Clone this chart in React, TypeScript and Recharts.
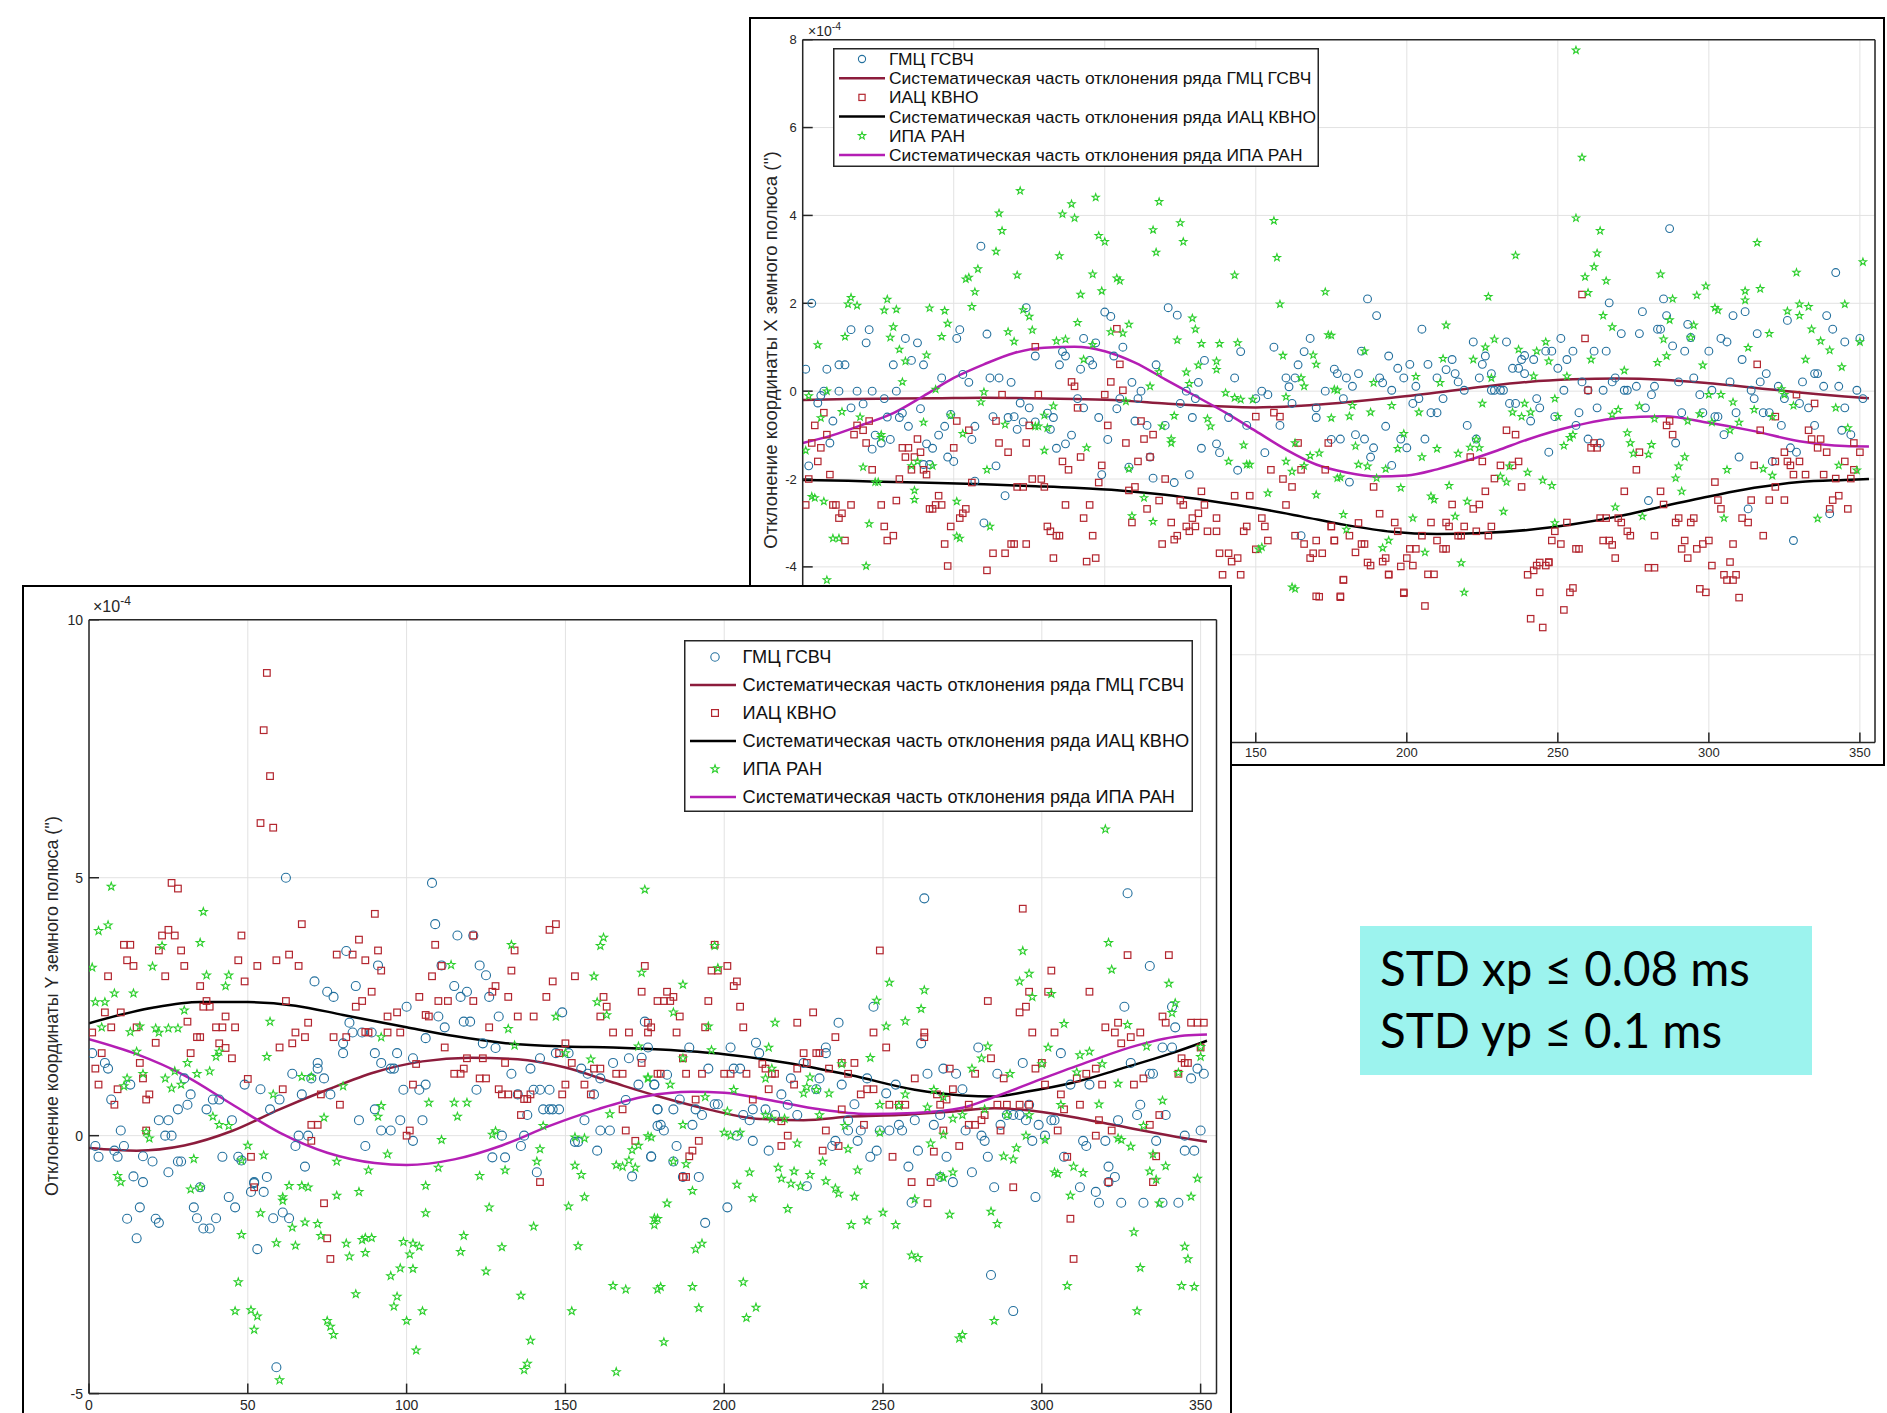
import React from 'react';
import { ComposedChart, Scatter, Line, XAxis, YAxis, CartesianGrid } from 'recharts';

type P = [number, number];

// ---------- labels ----------
const X_TICKS = [0, 50, 100, 150, 200, 250, 300, 350];
const X_DOMAIN: [number, number] = [0, 355];
const TOP_Y_TICKS = [-8, -6, -4, -2, 0, 2, 4, 6, 8];
const BOT_Y_TICKS = [-5, 0, 5, 10];
// tick labels of the upper chart that lie under the lower chart (not visible in the reference)
const TOP_HIDDEN_X = [0, 50, 100];
const TOP_HIDDEN_Y = [-6, -8];
const SERIES_NAMES = [
  'ГМЦ ГСВЧ',
  'Систематическая часть отклонения ряда ГМЦ ГСВЧ',
  'ИАЦ КВНО',
  'Систематическая часть отклонения ряда ИАЦ КВНО',
  'ИПА РАН',
  'Систематическая часть отклонения ряда ИПА РАН',
];
const TOP_Y_TITLE = "Отклонение координаты X земного полюса ('')";
const BOT_Y_TITLE = "Отклонение координаты Y земного полюса ('')";
const STD_LINES = ['STD xp ≤ 0.08 ms', 'STD yp ≤ 0.1 ms'];

// ---------- top chart (X pole), units 1e-4 ----------
const TOP_GMC: P[] = [[3,2.0],[1,0.5],[2,-1.7],[7,0],[8,0.5],[12,0.6],[14,0.6],[16,1.4],[21,1.1],[22,1.4],[12,0],[18,0],[23,0],[5,-0.27],[10,-0.68],[9,-1.18],[16,-0.38],[20,-0.29],[24,-1.0],[26,-1.18],[29,-1.1],[28,-0.59],[30,0.6],[31,0],[33,-0.5],[34,1.2],[38,1.1],[36,0.7],[40,0.6],[39,-0.4],[35,-0.8],[41,-1.2],[43,-1.3],[45,-1.0],[47,-0.8],[46,0.3],[51,1.2],[52,1.4],[53,0.38],[55,0.2],[57,-0.8],[56,-1.1],[59,3.3],[61,1.3],[48,-1.5],[50,-1.6],[64,-1.7],[67,-2.38],[60,-3.0],[62,0.3],[65,0.3],[69,0.2],[68,-0.6],[73,-0.7],[74,1.9],[72,-0.27],[75,-0.38],[77,-0.7],[77,0.8],[81,-0.5],[83,-0.6],[82,-0.87],[84,-1.3],[87,-1.2],[89,-1.0],[85,0.6],[87,0.8],[86,0.9],[92,0.5],[93,1.2],[95,0.7],[96,0.6],[97,1.1],[91,-0.17],[93,-0.38],[98,-0.6],[101,-1.1],[99,-1.9],[100,1.8],[102,1.7],[103,0.8],[106,1.0],[105,-0.17],[104,-0.4],[108,-1.73],[111,-0.17],[112,0],[109,0.2],[110,-0.68],[114,-0.78],[115,-1.5],[117,0.6],[120,-0.78],[121,1.9],[124,1.73],[123,-2.08],[128,-1.9],[125,-0.28],[127,0],[129,-0.6],[131,0.2],[130,-0.17],[132,-1.3],[133,0.7],[137,-1.2],[138,-1.4],[141,-0.6],[143,0.3],[144,-1.8],[145,0.9],[147,-0.78],[150,-0.17],[153,-1.4],[152,0],[154,-0.08],[156,1.0],[160,0.3],[163,0.3],[161,0.1],[164,0.6],[166,0.9],[168,1.2],[170,-0.6],[173,0],[176,0.5],[162,-0.28],[165,-3.29],[158,-0.78],[170,-0.38],[175,-1.1],[6,-0.1],[27,-0.17],[32,-0.6],[42,-1.67],[49,-0.53],[63,-0.58],[70,-0.58],[71,-0.87],[23,-1.32],[40,-1.67],[57,-2.05],[116,-1.98],
[187,2.1],[190,1.72],[205,1.41],[185,0.91],[194,0.8],[201,0.61],[197,0.52],[207,0.61],[177,0.4],[180,0.3],[184,0.4],[182,0.11],[191,0.3],[192,0.19],[199,0.3],[203,0.11],[195,0.02],[179,-0.17],[193,-0.8],[178,-1.09],[183,-0.99],[186,-1.09],[189,-1.29],[188,-1.5],[195,-1.69],[181,-2.07],[200,-1.29],[198,-1.09],[206,-1.09],[202,-0.28],[204,-0.17],[208,-0.49],[210,-0.49],[212,-0.17],[210,0.3],[213,0.49],[215,0.72],[216,0.4],[217,0.21],[219,0.02],[222,1.12],[225,0.61],[226,0.8],[224,0.3],[228,0.4],[220,-0.78],[223,-1.09],[228,0.02],[229,0.02],[231,0.02],[232,0.02],[233,1.12],[235,0.52],[237,0.52],[238,0.72],[239,0.81],[242,0.72],[234,-0.28],[236,-0.28],[239,0.4],[241,-0.68],[243,-0.17],[244,-0.38],[246,0.91],[248,0.91],[250,0.52],[251,1.2],[253,0.72],[255,0.91],[252,0.02],[249,-0.58],[247,-1.39],[256,-0.78],[257,-0.49],[258,0.21],[260,0.02],[260,-1.09],[262,0.91],[266,0.91],[263,-0.38],[264,-1.18],[265,0.02],[267,2.01],[268,0.21],[269,0.3],[271,1.31],[272,0.02],[273,0.02],[276,0.11],[277,1.31],[278,1.81],[279,-0.38],[280,-2.49],[281,-0.08],[282,0.11],[283,1.41],[284,1.41],[285,2.1],[286,1.72],[287,3.7],[288,1.03],[289,-1.18],[290,0.21],[291,-0.49],[292,0.91],[293,1.52],[294,1.22],[295,0.3],[297,-0.08],[298,-0.49],[300,0.91],[301,0.02],[302,-0.58],[303,-0.58],[304,1.2],[305,-0.99],[306,1.12],[307,0.21],[308,1.72],[309,-0.49],[310,-1.5],[311,0.72],[312,1.81],[313,-2.68],[314,0.02],[315,-0.17],[316,1.31],[317,0.21],[318,-0.49],[320,-0.49],[319,0.4],[321,-1.6],[323,0.11],[324,-0.78],[325,-0.17],[326,1.61],[327,-1.29],[328,-3.4],[329,-1.39],[330,-0.28],[331,0.21],[333,-0.38],[335,-0.78],[335,0.4],[336,0.4],[338,0.11],[339,1.72],[340,-2.79],[341,1.41],[342,2.7],[343,0.11],[344,-0.89],[345,-0.38],[345,1.12],[347,-0.99],[349,0.02],[350,1.2],[351,-0.17]];

const TOP_IAC: P[] = [[2,-2.0],[1,-2.59],[3,-1.18],[4,-0.78],[5,-1.6],[6,-1.29],[7,-0.49],[8,-0.99],[9,-1.9],[10,-2.59],[11,-2.59],[12,-2.89],[13,-2.78],[14,-3.4],[16,-2.59],[17,-0.99],[18,-0.78],[20,-0.89],[21,-1.18],[22,-0.68],[23,-1.79],[26,-2.59],[27,-3.08],[28,-3.4],[30,-3.29],[31,-2.49],[32,-2.0],[33,-1.29],[35,-1.29],[34,-1.5],[36,-1.79],[37,-1.5],[38,-1.09],[39,-1.39],[40,-1.79],[41,-1.9],[42,-2.68],[43,-2.68],[44,-2.59],[45,-2.38],[46,-2.59],[47,-3.48],[48,-3.98],[49,-3.08],[50,-1.29],[51,-0.68],[52,-2.89],[53,-2.78],[54,-2.68],[55,-0.89],[56,-2.08],[61,-4.08],[63,-3.69],[64,-0.68],[65,-1.18],[66,-0.08],[67,-3.69],[68,-1.39],[69,-3.48],[70,-3.48],[71,-2.18],[73,-2.18],[74,-1.18],[74,-3.48],[75,-0.78],[77,1.01],[78,-0.08],[76,-2.0],[79,-2.0],[80,-2.18],[81,-3.08],[82,-3.19],[84,-3.29],[85,-3.29],[83,-3.8],[86,-1.6],[87,-2.59],[88,-1.79],[89,0.21],[90,0.11],[91,-0.38],[92,-1.5],[93,-2.89],[94,-3.88],[95,-2.59],[96,-3.29],[97,-3.8],[98,-2.08],[99,-1.69],[100,-0.08],[101,-0.78],[102,0.21],[104,1.42],[105,0.61],[106,0.02],[107,-1.18],[108,-2.26],[109,-2.99],[110,-2.18],[111,-1.6],[112,-0.68],[113,-1.09],[114,-2.68],[115,-1.5],[116,-0.99],[118,-2.49],[119,-3.48],[120,-2.0],[122,-2.99],[123,-3.38],[124,-3.29],[125,-2.49],[126,-2.59],[127,-3.08],[128,-3.19],[129,-2.89],[130,-3.08],[131,-2.78],[132,-2.28],[133,-2.59],[134,-3.19],[137,-3.19],[137,-2.89],[138,-3.69],[141,-3.69],[139,-4.18],[145,-4.18],[142,-3.88],[144,-3.8],[143,-2.38],[148,-2.38],[146,-3.19],[147,-3.08],[150,-3.6],[152,-2.89],[153,-3.08],[154,-3.4],[155,-1.79],[156,-0.49],[158,-0.58],[159,-2.0],[160,-2.59],[162,-2.18],[163,-3.29],[165,-1.79],[166,-3.48],[168,-3.8],[169,-3.69],[170,-3.4],[172,-3.69],[173,-1.79],[174,-1.18],[175,-3.08],[176,-3.4],[171,-4.68],[150,-0.58],[164,-1.18],
[170,-4.67],[178,-4.67],[179,-4.3],[194,-4.17],[199,-4.58],[206,-4.89],[207,-4.17],[209,-4.17],[297,-4.5],[306,-4.3],[308,-4.3],[310,-4.7],[280,-4.02],[282,-4.02],
[258,2.2],[259,1.2],[260,0.02],[316,0.61],[329,-0.08],[335,-0.28],[322,-0.58],[317,-0.89],[333,-0.89],[334,-1.09],[337,-1.09],[336,-1.29],[339,-1.39],[325,-1.39],[326,-1.6],[330,-1.6],[322,-1.6],[327,-1.69],[315,-1.69],[345,-1.6],[348,-1.18],[350,-1.39],[328,-1.9],[332,-1.9],[338,-1.9],[342,-1.99],[347,-1.99],[348,-1.79],[322,-2.18],[302,-2.07],[303,-2.48],[304,-2.68],[314,-2.48],[320,-2.48],[325,-2.48],[343,-2.38],[341,-2.48],[346,-2.68],[340,-2.68],[311,-2.89],[313,-2.99],[318,-3.29],[308,-3.48],[307,-3.89],[309,-4.18],[305,-4.18],[301,-3.97],[300,-3.4],[296,-3.59],[298,-3.48],[292,-3.4],[291,-3.59],[293,-3.8],[299,-4.58],[289,-2.99],[290,-2.89],[294,-2.99],[295,-2.89],[282,-3.29],[284,-2.28],[285,-2.58],[287,-0.68],[286,-0.78],[288,-0.99],[277,-1.39],[276,-1.79],[272,-2.28],[274,-3.29],[273,-3.19],[271,-2.99],[269,-3.8],[270,-2.89],[264,-2.89],[266,-2.89],[265,-3.4],[267,-3.4],[268,-3.5],[261,-1.29],[263,-1.29],[262,-1.18],[256,-3.59],[257,-3.59],[253,-2.99],[251,-3.48],[248,-3.4],[249,-3.19],[247,-3.89],[246,-3.97],[243,-3.97],[242,-4.08],[240,-4.18],[238,-2.18],[237,-1.6],[235,-1.69],[233,-0.89],[236,-0.99],[231,-1.69],[229,-1.99],[226,-2.28],[225,-1.6],[221,-1.5],[224,-2.58],[222,-2.68],[228,-3.08],[227,-3.29],[223,-3.19],[219,-3.08],[217,-3.29],[218,-3.29],[215,-2.58],[213,-2.99],[214,-3.08],[210,-3.4],[212,-3.59],[213,-3.59],[208,-2.99],[205,-3.29],[202,-3.97],[203,-3.59],[201,-3.59],[199,-4.6],[198,-3.99],[200,-3.8],[196,-2.99],[197,-3.19],[194,-4.18],[193,-3.8],[192,-3.88],[188,-3.97],[187,-3.9],[186,-3.48],[185,-3.48],[183,-3.67],[184,-3.0],[181,-3.29],[179,-4.29],[178,-4.69],[176,-3.4],[175,-3.08],[189,-2.18],[191,-2.79],[241,-5.18],[245,-5.38],[252,-4.98],[244,-4.58],[254,-4.58],[255,-4.48],[244,-3.9],[247,-3.9]];

const TOP_IPA: P[] = [[72,4.56],[65,4.05],[66,3.65],[64,3.18],[86,4.03],[89,4.26],[90,3.94],[97,4.41],[98,3.54],[100,3.4],[118,4.31],[116,3.67],[125,3.83],[126,3.4],[117,3.16],[85,3.08],[71,2.64],[58,2.78],[54,2.55],[55,2.59],[57,2.26],[56,1.92],[96,2.66],[104,2.57],[105,2.51],[92,2.2],[99,2.28],[143,2.64],[156,3.88],[157,3.04],[173,2.26],[158,1.98],[16,2.13],[15,1.98],[18,1.95],[28,2.09],[27,1.84],[31,1.86],[42,1.89],[47,1.83],[48,1.54],[46,1.24],[30,1.46],[29,1.22],[14,1.24],[5,1.05],[32,0.95],[41,0.82],[34,0.68],[73,1.85],[75,1.7],[68,1.35],[76,1.39],[70,1.13],[91,1.56],[102,1.35],[106,1.32],[108,1.52],[84,1.14],[87,1.18],[96,1.06],[93,0.72],[124,1.16],[129,1.66],[130,1.41],[132,1.08],[138,1.08],[144,1.1],[131,0.59],[137,0.68],[137,0.49],[140,-0.04],[145,-0.19],[149,-0.19],[143,-0.15],[127,0.43],[128,0.17],[115,0.11],[118,0.44],[160,-0.13],[159,0.81],[165,0.3],[166,0.11],[169,0.82],[170,0.61],[174,1.28],[176,0.04],[175,-0.61],[171,-1.41],[168,-1.47],[160,-1.6],[166,-1.7],[162,-1.83],[170,-2.36],[154,-2.32],[152,-3.55],[151,-3.6],[162,-4.46],[177,-1.98],[163,-1.18],[146,-1.23],[141,-1.6],[147,-1.67],[148,-1.67],[134,-0.63],[135,-0.8],[123,-0.56],[122,-1.09],[122,-1.18],[113,-2.43],[116,-2.97],[109,-2.84],[108,-1.77],[107,-0.23],[94,-1.29],[80,-1.35],[83,-0.34],[81,-0.84],[78,-0.8],[77,-0.8],[80,-0.55],[67,-0.76],[60,-0.02],[59,-0.25],[61,-1.79],[62,-3.08],[52,-3.35],[51,-2.51],[53,-0.97],[49,-0.55],[44,0.04],[40,-0.71],[38,-1.6],[37,-2.26],[43,-1.7],[36,-1.7],[33,0.21],[26,-0.99],[26,-1.06],[24,-2.07],[25,-2.07],[22,-3.02],[20,-1.73],[19,-0.59],[13,-0.47],[8,0],[6,-0.61],[2,-0.11],[1,-1.35],[3,-2.4],[7,-2.51],[10,-3.35],[12,-3.35],[21,-3.98],[8,-4.3],[119,-0.8],
[256,7.76],[258,5.32],[163,-4.5],[219,-4.58],[4,-2.43],[37,-2.47],[51,-3.3],
[256,3.94],[264,3.65],[263,3.14],[262,2.83],[259,2.6],[266,2.51],[260,2.24],[236,3.09],[316,3.38],[351,2.94],[329,2.7],[284,2.66],[299,2.39],[317,2.33],[312,2.28],[312,2.07],[296,2.18],[288,2.1],[227,2.15],[345,1.98],[330,1.98],[333,1.92],[302,1.9],[303,1.84],[326,1.82],[330,1.72],[265,1.72],[287,1.62],[295,1.5],[334,1.41],[268,1.46],[213,1.5],[175,1.27],[320,1.31],[285,1.18],[337,1.14],[340,0.93],[350,1.12],[313,0.99],[294,1.22],[229,1.18],[226,1.0],[222,0.72],[237,0.95],[243,0.91],[246,1.12],[247,0.68],[261,0.72],[283,0.65],[286,0.8],[298,0.59],[332,0.72],[344,0.55],[272,0.47],[186,0.91],[212,0.74],[242,0.34],[228,0.3],[211,0.19],[189,0.19],[203,0.33],[177,0.02],[182,-0.33],[181,-0.57],[188,-0.48],[195,-0.33],[204,-0.48],[225,-0.28],[235,-0.48],[238,-0.58],[241,-0.48],[239,-0.28],[249,-0.17],[253,0.34],[250,-0.58],[254,-1.06],[255,-0.99],[252,-1.24],[270,-0.42],[268,-0.53],[277,-0.34],[282,-0.63],[293,-0.68],[297,-0.52],[301,-0.71],[304,-0.08],[300,-0.08],[308,-0.25],[310,-0.71],[307,-0.89],[315,-0.42],[321,-0.58],[324,0.05],[325,-0.08],[328,-0.33],[342,-0.38],[346,-0.84],[349,-1.8],[321,-1.92],[318,-1.77],[343,-1.69],[306,-1.79],[292,-1.5],[290,-1.71],[289,-1.98],[291,-2.28],[273,-0.95],[274,-1.18],[275,-1.42],[280,-1.44],[281,-1.22],[269,-2.64],[278,-2.85],[305,-2.89],[336,-2.9],[248,-2.15],[245,-2.03],[240,-1.85],[233,-2.07],[232,-2.74],[231,-1.94],[234,-1.71],[214,-2.15],[220,-2.51],[209,-2.47],[208,-2.39],[216,-2.85],[202,-2.89],[198,-2.2],[205,-1.5],[210,-1.31],[217,-1.42],[221,-1.28],[224,-1.29],[223,-1.1],[199,-0.97],[197,-1.31],[193,-1.77],[190,-1.98],[184,-1.67],[187,-1.71],[183,-1.25],[178,-1.96],[179,-2.81],[180,-3.15],[194,-3.4],[192,-3.57],[206,-3.67],[218,-3.91],[249,-3.0]];

const TOP_GMC_LINE: P[] = [[0,-0.2],[15,-0.18],[30,-0.17],[45,-0.16],[60,-0.15],[75,-0.16],[90,-0.18],[105,-0.21],[120,-0.28],[135,-0.34],[150,-0.37],[165,-0.33],[180,-0.25],[195,-0.15],[210,-0.03],[225,0.1],[240,0.21],[255,0.27],[270,0.29],[285,0.26],[300,0.18],[315,0.08],[330,-0.03],[345,-0.12],[353,-0.16]];
const TOP_IAC_LINE: P[] = [[0,-2.02],[15,-2.04],[30,-2.07],[45,-2.09],[60,-2.12],[75,-2.16],[90,-2.2],[105,-2.26],[120,-2.36],[135,-2.5],[150,-2.66],[165,-2.85],[180,-3.05],[195,-3.2],[210,-3.25],[225,-3.23],[240,-3.16],[255,-3.03],[270,-2.85],[285,-2.62],[300,-2.4],[315,-2.2],[330,-2.07],[345,-2.02],[353,-2.0]];
const TOP_IPA_LINE: P[] = [[0,-1.18],[10,-1.0],[20,-0.76],[30,-0.5],[40,-0.11],[50,0.3],[60,0.61],[70,0.87],[80,0.99],[90,1.01],[100,0.91],[110,0.65],[120,0.27],[130,-0.11],[140,-0.49],[150,-0.91],[160,-1.33],[170,-1.67],[180,-1.85],[190,-1.94],[200,-1.92],[210,-1.78],[220,-1.58],[230,-1.35],[240,-1.1],[255,-0.8],[270,-0.61],[285,-0.57],[300,-0.72],[315,-0.91],[330,-1.14],[345,-1.25],[353,-1.26]];

// ---------- bottom chart (Y pole), units 1e-4 ----------
const BOT_GMC: P[] = [[62,5.0],[108,4.9],[109,4.1],[116,3.88],[121,3.88],[111,3.3],[81,3.58],[91,3.3],[123,3.3],[125,3.11],[71,2.99],[75,2.79],[77,2.69],[84,2.9],[115,2.9],[119,2.79],[117,2.69],[126,2.69],[129,2.31],[100,2.5],[110,2.31],[118,2.21],[120,2.21],[149,2.39],[175,2.21],[82,2.19],[83,2.0],[86,2.0],[89,2.0],[80,1.79],[80,1.6],[90,1.6],[97,1.6],[92,1.41],[95,1.3],[96,1.3],[102,1.5],[106,1.89],[112,2.1],[124,1.79],[128,1.7],[133,1.2],[139,1.3],[142,1.5],[147,1.6],[151,1.6],[155,1.3],[157,1.2],[161,1.11],[165,1.41],[170,1.5],[173,0.99],[178,0.99],[179,0.51],[179,0.19],[177,-0.4],[171,-0.79],[164,0.1],[161,0.1],[159,0.8],[156,0.3],[169,0.69],[153,-0.12],[154,-0.12],[160,-0.29],[140,0.89],[145,0.89],[142,0.89],[135,0.8],[143,0.51],[145,0.51],[148,0.51],[146,0.51],[138,0.4],[137,0],[136,-0.2],[141,-0.71],[131,-0.42],[127,-0.42],[130,0],[122,0.89],[106,0.99],[104,0.89],[99,0.89],[105,0.3],[98,0.3],[92,0.1],[95,0.1],[102,-0.1],[87,-0.2],[85,0.3],[90,0.51],[76,0.8],[67,0.8],[72,1.41],[72,1.3],[74,1.11],[70,1.11],[64,1.2],[54,0.9],[49,0.99],[57,0.51],[60,0.7],[66,0],[69,0],[65,-0.2],[68,-0.6],[56,-0.8],[51,-1.09],[52,-0.92],[55,-1.09],[58,-1.6],[63,-1.6],[61,-1.49],[53,-2.2],[59,-4.49],[45,0.3],[41,0.7],[39,0.7],[37,0.51],[32,0.8],[31,0.6],[28,0.51],[30,1.11],[25,0.3],[24,0],[26,0],[25,-0.71],[28,-0.5],[29,-0.5],[20,-0.5],[17,-0.4],[22,-1.69],[21,-1.61],[15,-1.99],[12,-1.61],[16,-1.39],[14,-0.79],[17,-0.9],[11,-0.2],[9,-0.41],[8,-0.29],[10,0.1],[3,-0.41],[2,-0.2],[1,1.6],[5,1.41],[6,1.3],[7,0.7],[13,0.99],[22,0.3],[33,-1.39],[35,-1.0],[34,-1.6],[36,-1.8],[38,-1.8],[40,-1.6],[44,-1.19],[46,-1.39],[42,-0.41],[47,-0.41],[48,-0.48],[52,-0.9],
[263,4.6],[327,4.7],[334,3.29],[326,2.5],[341,2.5],[236,2.19],[247,2.5],[262,1.79],[280,1.71],[306,1.6],[294,1.41],[338,1.71],[341,1.71],[342,2.1],[328,1.41],[334,1.2],[335,1.2],[309,0.99],[315,0.99],[349,1.3],[351,1.2],[347,1.11],[345,0],[350,0.1],[345,-0.29],[348,-0.29],[331,0.6],[330,0.4],[339,0.4],[324,0.3],[320,-0.1],[336,-0.1],[321,-0.9],[321,-0.6],[323,-0.8],[318,-1.3],[325,-1.3],[332,-1.3],[338,-1.3],[343,-1.3],[317,-1.09],[312,-1.0],[298,-1.19],[314,-0.2],[313,-0.1],[307,-0.41],[303,0.3],[304,0.3],[301,0],[299,0.21],[297,-0.1],[296,0.6],[286,1.2],[273,1.2],[269,1.3],[264,1.2],[275,0.9],[289,0.4],[291,0.4],[293,0.4],[295,0.3],[287,0.21],[276,0.1],[281,0],[282,-0.1],[283,-0.41],[270,-0.41],[278,-0.71],[272,-0.9],[285,-1.0],[284,-2.7],[291,-3.4],[268,-0.8],[261,-0.29],[266,0.21],[268,0.4],[260,0.3],[258,-0.6],[259,-1.3],[248,-0.29],[246,-0.41],[242,-0.1],[243,0.1],[249,0.1],[252,0.1],[255,0.21],[256,0.1],[251,0.82],[254,0.99],[241,0.61],[245,1.11],[237,0.99],[235,-0.1],[234,-0.2],[239,0.1],[239,0.3],[229,0.9],[226,-0.98],[230,1.11],[232,1.71],[232,1.6],[225,1.41],[221,1.11],[223,0.4],[220,0.6],[218,0.8],[216,0.4],[211,1.6],[210,1.8],[209,0.51],[208,0.3],[206,0.4],[209,-0.1],[214,-0.29],[213,0.51],[203,1.3],[205,1.3],[202,1.71],[201,-1.39],[204,0],[197,0.61],[198,0.61],[195,1.3],[193,0.4],[190,0.21],[191,0.51],[189,1.71],[194,-1.69],[192,-0.8],[187,-0.8],[185,-0.2],[184,-0.5],[177,-0.41],[180,0.21],[181,0.1],[179,0.51],[184,0.51],[178,0.99],[182,1.18],[186,0.7],[176,1.71],[174,1.51]];

const BOT_IAC: P[] = [[56,8.97],[55,7.86],[57,6.97],[54,6.06],[58,5.97],
[26,4.9],[28,4.79],[90,4.3],[67,4.1],[48,3.88],[25,3.99],[23,3.88],[27,3.88],[11,3.7],[13,3.7],[22,3.59],[29,3.59],[85,3.8],[78,3.51],[83,3.51],[91,3.59],[87,3.4],[92,3.2],[63,3.51],[59,3.4],[66,3.29],[53,3.29],[47,3.4],[30,3.29],[12,3.4],[14,3.29],[24,3.09],[6,3.09],[35,2.9],[49,2.99],[89,2.79],[84,2.5],[86,2.61],[62,2.61],[37,2.61],[36,2.5],[38,2.5],[5,2.39],[10,2.39],[43,2.31],[31,2.21],[40,2.1],[42,2.1],[46,2.1],[7,2.1],[15,2.1],[1,2.0],[69,2.19],[65,2.0],[68,1.91],[77,1.91],[81,1.91],[88,2.0],[94,2.31],[97,2.39],[94,2.0],[98,2.0],[104,2.69],[106,2.34],[107,2.31],[110,2.61],[113,2.61],[108,3.09],[111,3.29],[109,3.7],[121,3.88],[121,2.61],[127,2.79],[128,2.9],[132,2.69],[133,3.2],[134,3.59],[135,2.31],[140,2.31],[126,2.1],[144,2.69],[146,2.99],[145,3.99],[147,4.1],[153,3.09],[162,2.69],[163,2.5],[161,2.31],[174,2.79],[175,3.29],[179,2.61],[176,2.19],[177,2.1],[165,2.0],[170,2.0],[112,1.71],[119,1.5],[124,1.5],[118,1.3],[115,1.2],[117,1.2],[123,1.11],[125,1.11],[131,1.41],[129,0.9],[130,0.8],[132,0.8],[135,0.8],[137,0.71],[138,0.71],[139,0.8],[136,0.4],[142,-0.9],[150,1.79],[148,1.6],[152,1.41],[150,0.99],[156,0.99],[159,1.3],[161,1.3],[158,0.8],[149,0.8],[166,1.2],[168,1.2],[168,0.51],[174,1.41],[179,1.2],[169,0.1],[172,-0.1],[103,1.39],[102,0.99],[101,0.1],[100,0],[87,2.01],[79,0.6],[73,0.8],[70,0.21],[72,0.21],[70,-0.1],[74,-1.31],[75,-1.99],[76,-2.39],[61,0.9],[60,1.71],[64,1.79],[50,1.1],[51,-0.41],[52,-1.0],[43,1.7],[45,1.5],[41,1.79],[32,1.6],[34,1.91],[35,1.91],[21,1.8],[16,1.41],[17,1.11],[19,0.8],[18,0.7],[8,0.6],[9,0.9],[2,1.3],[3,0.99],[4,1.6],[18,0.1],
[294,4.4],[249,3.59],[197,3.7],[196,3.2],[198,3.2],[201,3.29],[204,2.99],[203,2.9],[303,3.2],[315,2.79],[296,2.79],[302,2.79],[327,3.5],[340,3.5],[283,2.61],[295,2.5],[293,2.39],[181,2.61],[183,2.61],[182,2.79],[184,2.69],[195,2.61],[205,2.5],[186,2.31],[228,2.39],[223,2.19],[206,2.1],[176,2.0],[185,2.0],[194,2.1],[235,1.91],[247,2.0],[263,2.0],[263,1.91],[251,1.71],[297,2.0],[304,2.0],[320,2.1],[323,2.0],[324,2.19],[328,1.91],[331,2.0],[338,2.31],[339,2.19],[347,2.19],[349,2.19],[351,2.19],[350,1.71],[344,1.5],[345,1.41],[346,1.41],[343,1.2],[332,1.11],[329,0.99],[325,1.79],[319,0.99],[311,1.11],[317,1.3],[314,1.2],[301,0.99],[298,1.3],[300,1.41],[306,0.8],[312,0.6],[318,0.3],[317,0],[322,0.1],[305,0.1],[308,-0.41],[309,-1.61],[310,-2.39],[321,-0.9],[335,-0.9],[336,-0.4],[334,0.21],[337,0.4],[307,0.51],[293,0.6],[296,0.6],[289,0.6],[286,0.6],[288,1.11],[284,1.5],[279,1.2],[271,1.3],[272,0.9],[267,0.8],[270,0.7],[268,0.6],[277,0.6],[281,0.3],[279,0.21],[277,0.21],[274,-0.2],[266,-0.31],[269,0.1],[282,0.4],[287,0.1],[291,-1.0],[259,-0.9],[265,-0.9],[264,-1.31],[253,-0.41],[260,1.11],[255,0.6],[257,0.6],[252,0.6],[247,0.9],[245,0.9],[243,0.8],[237,0.51],[244,0.21],[239,1.2],[241,1.41],[237,1.41],[233,1.3],[230,1.6],[229,1.6],[225,1.6],[223,1.3],[226,1.41],[222,0.99],[215,1.2],[216,1.2],[213,1.3],[214,0.9],[212,1.39],[209,0.7],[207,1.2],[200,1.2],[202,1.2],[193,1.2],[188,1.2],[180,1.2],[191,0.7],[187,1.5],[218,0.28],[220,0],[232,0.1],[231,-0.29],[236,-0.2],[218,-0.2],[189,-0.4],[190,-0.29],[192,-0.1],[188,-0.8],[187,-0.8]];

const BOT_IPA: P[] = [[7,4.83],[36,4.34],[3,3.97],[6,4.08],[35,3.74],[23,3.68],[1,3.26],[20,3.28],[37,3.11],[44,3.11],[43,2.9],[8,2.76],[14,2.76],[2,2.59],[5,2.59],[30,2.43],[57,2.21],[4,2.1],[13,2.01],[16,2.12],[21,2.08],[22,2.0],[25,2.08],[28,2.08],[41,1.63],[40,1.53],[31,1.41],[34,1.2],[38,1.25],[27,1.25],[56,1.53],[15,1.63],[17,1.2],[12,1.11],[11,0.96],[24,1.11],[26,0.92],[29,0.99],[58,0.8],[67,1.14],[70,1.14],[74,0.35],[80,0.96],[92,0.58],[91,0.37],[41,0.21],[39,0.37],[44,0.19],[18,0.07],[19,-0.05],[33,-0.45],[9,-0.78],[10,-0.9],[32,-1.04],[35,-1.0],[48,-0.48],[50,-0.19],[55,-0.38],[63,-0.97],[67,-0.97],[69,-1.0],[61,-1.19],[61,-1.26],[78,-1.16],[85,-1.09],[78,-0.5],[88,-0.67],[94,-0.36],[92,1.91],[107,0.64],[111,-0.08],[114,3.31],[115,0.64],[119,0.64],[116,0.37],[110,-0.62],[106,-0.97],[106,-1.5],[123,-0.78],[126,-1.39],[127,0.02],[128,0.09],[132,2.07],[133,3.7],[134,1.75],[143,0.19],[142,-0.26],[141,-0.5],[140,-1.76],[131,-0.67],[118,-1.94],[117,-2.25],[130,-2.16],[125,-2.63],[136,-3.1],[139,-3.97],[138,-4.42],[137,-4.54],[147,2.31],[150,1.6],[158,1.48],[159,3.09],[161,3.68],[162,3.84],[160,2.59],[163,2.34],[156,-0.05],[153,-0.03],[155,-0.76],[153,-0.58],[156,-1.19],[151,-1.37],[154,-2.14],[152,-3.4],[165,-2.91],[169,-2.98],[166,-4.58],[175,4.77],[174,3.16],[173,1.73],[176,1.11],[171,-0.28],[170,-0.48],[168,-0.6],[166,-0.57],[172,-0.62],[173,-0.19],[164,0.42],[177,-0.03],[178,-1.6],[178,-1.73],[179,-2.98],[102,-2.09],[104,-2.15],[99,-2.06],[101,-2.3],[98,-2.57],[102,-2.58],[95,-2.72],[97,-3.12],[96,-3.31],[105,-3.4],[100,-3.59],[103,-4.16],[84,-3.07],[87,-1.98],[89,-1.98],[86,-2.02],[87,-2.27],[82,-2.34],[81,-2.09],[75,-3.59],[76,-3.7],[77,-3.86],[73,-1.94],[72,-1.71],[68,-1.68],[65,-2.13],[59,-2.08],[64,-1.78],[54,-1.5],[48,-1.92],[60,-4.74],[47,-2.84],[46,-3.4],[51,-3.38],[53,-3.5],[52,-3.76],
[197,3.68],[321,3.74],[294,3.58],[322,3.22],[296,3.14],[293,2.99],[198,3.25],[252,2.97],[263,2.82],[340,2.95],[187,2.93],[262,2.46],[342,2.57],[248,2.62],[297,2.69],[303,2.75],[341,2.38],[184,2.39],[216,2.19],[257,2.22],[307,2.17],[251,2.12],[195,2.12],[327,2.15],[187,1.5],[196,1.66],[214,1.71],[246,1.51],[237,1.39],[302,1.71],[312,1.56],[315,1.63],[319,1.39],[333,1.73],[350,1.72],[350,1.53],[343,1.22],[283,1.73],[281,1.5],[278,1.3],[290,1.2],[311,1.23],[300,1.39],[324,1.01],[338,0.68],[318,0.61],[306,0.6],[296,0.4],[289,0.4],[282,0.51],[266,0.89],[269,0.75],[264,0.55],[257,0.8],[255,0.58],[249,0.6],[233,0.82],[229,0.89],[226,0.94],[225,0.82],[227,1.13],[215,1.3],[213,1.11],[203,0.89],[194,0.75],[183,0.99],[176,1.13],[176,-0.01],[187,0.21],[200,0.06],[202,0],[205,0.06],[201,0.47],[213,0.4],[215,0.33],[219,0.33],[230,0.4],[238,0.19],[249,0.06],[269,0.02],[272,0.33],[275,0.4],[295,0],[301,-0.08],[324,-0.05],[325,-0.08],[328,-0.21],[332,0.19],[223,-0.15],[239,-0.26],[265,-0.15],[292,-0.24],[288,-0.4],[291,-0.46],[335,-0.36],[339,-0.59],[334,-0.69],[336,-0.85],[349,-0.83],[347,-1.18],[337,-1.31],[313,-0.72],[310,-0.6],[304,-0.71],[305,-0.74],[309,-1.16],[184,-0.5],[188,-0.55],[190,-1.07],[182,-1.31],[179,-1.61],[191,-2.2],[193,-2.09],[180,-2.93],[190,-2.93],[192,-3.34],[181,-4.0],[206,-2.84],[210,-3.33],[207,-3.53],[208,-0.71],[204,-0.95],[209,-1.21],[217,-0.62],[218,-0.83],[222,-0.69],[221,-0.93],[224,-0.98],[227,-0.76],[231,-0.5],[232,-0.88],[235,-1.02],[236,-1.12],[241,-1.18],[220,-1.42],[240,-1.73],[245,-1.64],[250,-1.49],[254,-1.73],[242,-0.67],[260,-1.23],[259,-2.32],[261,-2.37],[244,-2.89],[268,-0.78],[269,-0.81],[272,-0.71],[271,-1.53],[284,-1.47],[286,-1.71],[285,-3.59],[275,-3.86],[274,-3.93],[308,-2.91],[329,-1.87],[331,-2.56],[330,-3.4],[345,-2.15],[346,-2.39],[344,-2.91],[348,-2.93],[320,5.94]];

const BOT_GMC_LINE: P[] = [[0,-0.24],[15,-0.29],[30,-0.19],[45,0.09],[60,0.51],[75,0.89],[90,1.23],[105,1.44],[120,1.51],[135,1.48],[150,1.32],[165,1.03],[180,0.75],[195,0.51],[210,0.33],[225,0.3],[240,0.37],[255,0.4],[270,0.46],[285,0.53],[300,0.46],[315,0.3],[330,0.12],[345,-0.05],[352,-0.12]];
const BOT_IAC_LINE: P[] = [[0,2.18],[20,2.48],[35,2.59],[50,2.59],[65,2.52],[80,2.34],[100,2.1],[115,1.93],[130,1.8],[150,1.73],[165,1.71],[180,1.67],[200,1.58],[220,1.41],[240,1.17],[260,0.89],[275,0.78],[285,0.76],[295,0.85],[310,1.03],[325,1.3],[340,1.58],[352,1.84]];
const BOT_IPA_LINE: P[] = [[0,1.87],[15,1.58],[30,1.17],[45,0.61],[60,0.06],[75,-0.33],[90,-0.53],[100,-0.57],[115,-0.46],[130,-0.19],[145,0.19],[160,0.51],[175,0.76],[190,0.85],[200,0.83],[215,0.68],[230,0.51],[245,0.42],[260,0.44],[275,0.54],[285,0.75],[300,1.1],[315,1.44],[330,1.75],[345,1.94],[352,1.96]];

// ---------- styles ----------
const C_BLUE = '#23709e';
const C_SQ = '#b3262f';
const C_STAR = '#2ccf2c';
const C_L1 = '#8c1c3c';
const C_L2 = '#000000';
const C_L3 = '#b41eb4';
const AX = '#262626';
const FONT = '"Liberation Sans", Arial, Helvetica, sans-serif';

const toPts = (arr: P[]) => arr.map(([x, y]) => ({ x, y }));

function starPath(cx: number, cy: number, R: number) {
  const pts: string[] = [];
  for (let k = 0; k < 10; k++) {
    const a = -Math.PI / 2 + (k * Math.PI) / 5;
    const rr = k % 2 === 0 ? R : R * 0.4;
    pts.push(`${(cx + rr * Math.cos(a)).toFixed(2)},${(cy + rr * Math.sin(a)).toFixed(2)}`);
  }
  return pts.join(' ');
}

const mkCircle = (r: number) => (p: any) =>
  p.cx == null ? <g /> : <circle cx={p.cx} cy={p.cy} r={r} fill="none" stroke={C_BLUE} strokeWidth={1.1} />;
const mkSquare = (h: number) => (p: any) =>
  p.cx == null ? <g /> : <rect x={p.cx - h} y={p.cy - h} width={2 * h} height={2 * h} fill="none" stroke={C_SQ} strokeWidth={1.2} />;
const mkStar = (R: number) => (p: any) =>
  p.cx == null ? <g /> : <polygon points={starPath(p.cx, p.cy, R)} fill="none" stroke={C_STAR} strokeWidth={1.1} />;

// tick label renderers (skip labels that the reference hides)
const mkXTick = (hide: number[], fs: number) => (p: any) => {
  const v = p.payload?.value;
  if (hide.includes(v)) return <g />;
  return <text x={p.x} y={p.y} dy="0.71em" textAnchor="middle" fontSize={fs} fontFamily={FONT} fill={AX}>{v}</text>;
};
const mkYTick = (hide: number[], fs: number) => (p: any) => {
  const v = p.payload?.value;
  if (hide.includes(v)) return <g />;
  return <text x={p.x} y={p.y} dy="0.355em" textAnchor="end" fontSize={fs} fontFamily={FONT} fill={AX}>{v}</text>;
};

type ChartProps = {
  w: number; h: number;
  margin: { top: number; right: number; bottom: number; left: number };
  yDomain: [number, number]; yTicks: number[];
  gmc: P[]; iac: P[]; ipa: P[]; l1: P[]; l2: P[]; l3: P[];
  r: number; sq: number; st: number; fs: number; xh: number; xMargin: number;
  hideX: number[]; hideY: number[];
};

function PoleChart(pr: ChartProps) {
  return (
    <ComposedChart width={pr.w} height={pr.h} margin={pr.margin}>
      <CartesianGrid stroke="#e2e2e2" strokeWidth={1} />
      <XAxis type="number" dataKey="x" domain={X_DOMAIN} ticks={X_TICKS} interval={0} allowDataOverflow
        height={pr.xh} stroke={AX} strokeWidth={1.5} tickSize={-10} tickMargin={pr.xMargin} tick={mkXTick(pr.hideX, pr.fs)} />
      <XAxis xAxisId="top" orientation="top" type="number" dataKey="x" domain={X_DOMAIN} ticks={X_TICKS} interval={0}
        allowDataOverflow height={1} stroke={AX} strokeWidth={1.5} tickSize={-10} tick={false} />
      <YAxis type="number" dataKey="y" domain={pr.yDomain} ticks={pr.yTicks} interval={0} allowDataOverflow
        width={40} stroke={AX} strokeWidth={1.5} tickSize={-10} tickMargin={16} tick={mkYTick(pr.hideY, pr.fs)} />
      <YAxis yAxisId="right" orientation="right" type="number" domain={pr.yDomain} ticks={pr.yTicks} interval={0}
        allowDataOverflow width={1} stroke={AX} strokeWidth={1.5} tickSize={-10} tick={false} />
      <Scatter name={SERIES_NAMES[0]} data={toPts(pr.gmc)} shape={mkCircle(pr.r)} isAnimationActive={false} />
      <Line name={SERIES_NAMES[1]} data={toPts(pr.l1)} dataKey="y" type="monotone" stroke={C_L1} strokeWidth={2.5} dot={false} activeDot={false} isAnimationActive={false} />
      <Scatter name={SERIES_NAMES[2]} data={toPts(pr.iac)} shape={mkSquare(pr.sq)} isAnimationActive={false} />
      <Line name={SERIES_NAMES[3]} data={toPts(pr.l2)} dataKey="y" type="monotone" stroke={C_L2} strokeWidth={2.5} dot={false} activeDot={false} isAnimationActive={false} />
      <Scatter name={SERIES_NAMES[4]} data={toPts(pr.ipa)} shape={mkStar(pr.st)} isAnimationActive={false} />
      <Line name={SERIES_NAMES[5]} data={toPts(pr.l3)} dataKey="y" type="monotone" stroke={C_L3} strokeWidth={2.5} dot={false} activeDot={false} isAnimationActive={false} />
    </ComposedChart>
  );
}

type LegendProps = {
  left: number; top: number; width: number; height: number;
  first: number; rowH: number; mx: number; lx1: number; lx2: number; tx: number; fs: number;
  r: number; sq: number; st: number;
};
const LEGEND_KINDS = ['circle', 'line', 'square', 'line', 'star', 'line'];
const LEGEND_COLORS = [C_BLUE, C_L1, C_SQ, C_L2, C_STAR, C_L3];

function LegendBox(p: LegendProps) {
  return (
    <svg width={p.width} height={p.height} style={{ position: 'absolute', left: p.left, top: p.top }}>
      <rect x={0.75} y={0.75} width={p.width - 1.5} height={p.height - 1.5} fill="#fff" stroke="#262626" strokeWidth={1.5} />
      {SERIES_NAMES.map((name, i) => {
        const cy = p.first + i * p.rowH;
        const kind = LEGEND_KINDS[i];
        const col = LEGEND_COLORS[i];
        let mark: React.ReactNode = null;
        if (kind === 'circle') mark = <circle cx={p.mx} cy={cy} r={p.r} fill="none" stroke={col} strokeWidth={1.1} />;
        else if (kind === 'square') mark = <rect x={p.mx - p.sq} y={cy - p.sq} width={2 * p.sq} height={2 * p.sq} fill="none" stroke={col} strokeWidth={1.2} />;
        else if (kind === 'star') mark = <polygon points={starPath(p.mx, cy, p.st)} fill="none" stroke={col} strokeWidth={1.1} />;
        else mark = <line x1={p.lx1} x2={p.lx2} y1={cy} y2={cy} stroke={col} strokeWidth={2.5} />;
        return (
          <g key={i}>
            {mark}
            <text x={p.tx} y={cy} dominantBaseline="central" fontSize={p.fs} fontFamily={FONT} fill="#111">{name}</text>
          </g>
        );
      })}
    </svg>
  );
}

function Exponent({ left, top, fs }: { left: number; top: number; fs: number }) {
  return (
    <div style={{ position: 'absolute', left, top, fontSize: fs, fontFamily: FONT, color: AX, whiteSpace: 'nowrap', lineHeight: 1 }}>
      ×10<span style={{ fontSize: fs * 0.75, position: 'relative', top: -fs * 0.45 }}>-4</span>
    </div>
  );
}

function VTitle({ cx, cy, fs, text }: { cx: number; cy: number; fs: number; text: string }) {
  return (
    <div style={{
      position: 'absolute', left: cx, top: cy, transform: 'translate(-50%, -50%) rotate(-90deg)',
      fontSize: fs, fontFamily: FONT, color: AX, whiteSpace: 'nowrap', lineHeight: 1,
    }}>{text}</div>
  );
}

export default function App() {
  return (
    <div style={{ position: 'absolute', left: 0, top: 0, width: 1887, height: 1413, background: '#fff', overflow: 'hidden' }}>
      {/* Top panel: X pole */}
      <div style={{ position: 'absolute', left: 749, top: 17, width: 1136, height: 749, border: '2px solid #000', boxSizing: 'border-box', background: '#fff' }}>
        <PoleChart w={1132} h={745} margin={{ top: 19.7, right: 7, bottom: 1.4, left: 11.7 }}
          yDomain={[-8, 8]} yTicks={TOP_Y_TICKS} gmc={TOP_GMC} iac={TOP_IAC} ipa={TOP_IPA}
          l1={TOP_GMC_LINE} l2={TOP_IAC_LINE} l3={TOP_IPA_LINE} r={3.9} sq={3.2} st={3.8} fs={13} xh={20} xMargin={15}
          hideX={TOP_HIDDEN_X} hideY={TOP_HIDDEN_Y} />
        <VTitle cx={20} cy={331} fs={18.6} text={TOP_Y_TITLE} />
        <Exponent left={57} top={5} fs={14} />
        <LegendBox left={82} top={29} width={486} height={119} first={11} rowH={19.2} mx={29} lx1={6} lx2={52} tx={56} fs={17.4} r={3.6} sq={3.1} st={3.8} />
      </div>

      {/* Bottom panel: Y pole */}
      <div style={{ position: 'absolute', left: 22, top: 585, width: 1210, height: 828, borderLeft: '2px solid #000', borderTop: '2px solid #000', borderRight: '2px solid #000', boxSizing: 'border-box', background: '#fff' }}>
        <PoleChart w={1206} h={826} margin={{ top: 31.8, right: 12.5, bottom: 0.4, left: 25 }}
          yDomain={[-5, 10]} yTicks={BOT_Y_TICKS} gmc={BOT_GMC} iac={BOT_IAC} ipa={BOT_IPA}
          l1={BOT_GMC_LINE} l2={BOT_IAC_LINE} l3={BOT_IPA_LINE} r={4.5} sq={3.3} st={4.2} fs={14} xh={19} xMargin={16}
          hideX={[]} hideY={[]} />
        <VTitle cx={29} cy={419} fs={17.8} text={BOT_Y_TITLE} />
        <Exponent left={69} top={12} fs={16} />
        <LegendBox left={660} top={53} width={509} height={172} first={17} rowH={28} mx={31} lx1={6} lx2={52} tx={58.6} fs={18.2} r={4.2} sq={3.4} st={4.2} />
      </div>

      {/* STD box */}
      <div style={{ position: 'absolute', left: 1360, top: 926, width: 452, height: 149, background: '#9cf3ee' }}>
        {STD_LINES.map((t, i) => (
          <div key={i} style={{ position: 'absolute', left: 20, top: 12 + i * 62, fontFamily: 'Lato, "Open Sans", sans-serif', fontSize: 47.5, lineHeight: '60px', color: '#000', whiteSpace: 'nowrap' }}>{t}</div>
        ))}
      </div>
    </div>
  );
}
